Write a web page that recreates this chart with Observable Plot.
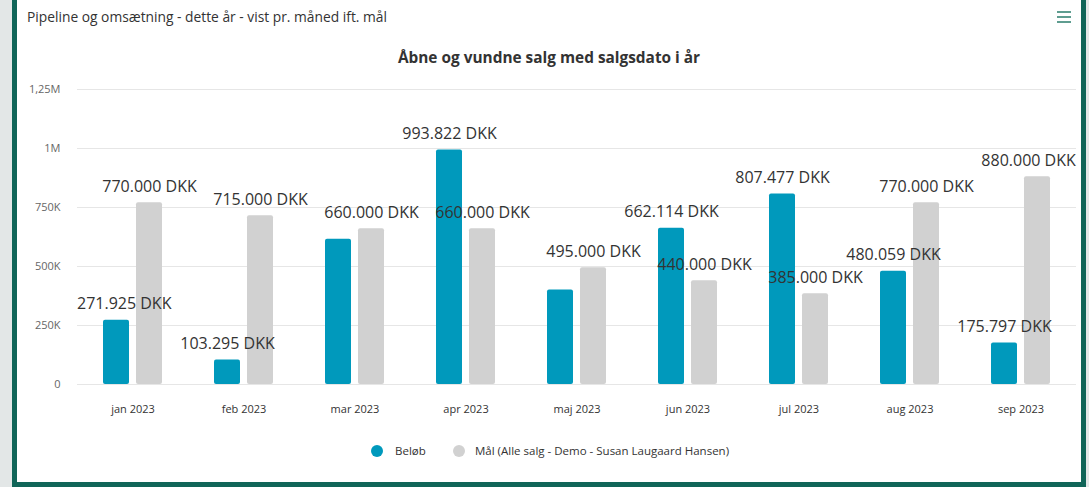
<!DOCTYPE html>
<html>
<head>
<meta charset="utf-8">
<script src="https://cdn.jsdelivr.net/npm/d3@7"></script>
<script src="https://cdn.jsdelivr.net/npm/@observablehq/plot@0.6"></script>
<style>
  html, body { margin: 0; padding: 0; }
  body { width: 1089px; height: 487px; overflow: hidden; background: #e3e7e7; position: relative; font-family: "Open Sans", sans-serif; }
  #card { position: absolute; left: 12px; top: -10px; width: 1074px; height: 497px; box-sizing: border-box; border: 5px solid #106558; background: #fff; }
  #title { position: absolute; left: 27px; top: 7px; font-size: 13.8px; line-height: 20px; color: #333; white-space: nowrap; }
  #menu { position: absolute; left: 1057px; top: 11px; width: 14px; }
  #menu div { height: 1.6px; background: #5f9d90; margin-bottom: 3.4px; }
  #ctitle { position: absolute; left: 17px; width: 1064px; top: 48px; text-align: center; font-size: 15.4px; font-weight: bold; line-height: 20px; color: #333; }
  #chart { position: absolute; left: 17px; top: 70px; }
  #legend { position: absolute; left: 17px; width: 1064px; top: 441px; height: 20px; font-size: 11.5px; color: #333; }
  .item { position: absolute; top: 0; line-height: 20px; white-space: nowrap; }
  .dot { position: absolute; width: 12px; height: 12px; border-radius: 50%; top: 4px; }
  svg g[aria-label^="y-axis"] text { fill: #666; }
</style>
</head>
<body>
<div id="card"></div>
<div id="title">Pipeline og omsætning - dette år - vist pr. måned ift. mål</div>
<div id="menu"><div></div><div></div><div></div></div>
<div id="ctitle">Åbne og vundne salg med salgsdato i år</div>
<div id="chart"></div>
<div id="legend"></div>
<script>
// ---- data ----
const months = ["jan 2023", "feb 2023", "mar 2023", "apr 2023", "maj 2023", "jun 2023", "jul 2023", "aug 2023", "sep 2023"];
const seriesKeys = ["Beløb", "Mål"];
const seriesLabels = ["Beløb", "Mål (Alle salg - Demo - Susan Laugaard Hansen)"];
const seriesColors = ["#0099bc", "#d1d1d1"];
const belob = [271925, 103295, 615000, 993822, 400000, 662114, 807477, 480059, 175797];
const maal = [770000, 715000, 660000, 660000, 495000, 440000, 385000, 770000, 880000];
// data labels the original hides because they overlap a higher label
const hiddenLabels = [["mar 2023", "Beløb"], ["maj 2023", "Beløb"]];
const yTicks = [0, 250000, 500000, 750000, 1000000, 1250000];
const yTickLabels = ["0", "250K", "500K", "750K", "1M", "1,25M"];

const rows = months.flatMap((m, i) => [
  {month: m, series: seriesKeys[0], value: belob[i]},
  {month: m, series: seriesKeys[1], value: maal[i]}
]);
const shown = rows.filter(d => !hiddenLabels.some(([m, s]) => m === d.month && s === d.series));
const fmt = v => d3.format(",")(v).replace(/,/g, ".") + " DKK";

const W = 1064, H = 355, ML = 60, MR = 5, MT = 19, MB = 41;
const chart = Plot.plot({
  width: W, height: H,
  marginTop: MT, marginRight: MR, marginBottom: MB, marginLeft: ML,
  style: {fontFamily: "Open Sans, sans-serif", fontSize: "11px", color: "#333", background: "transparent", overflow: "visible"},
  fx: {domain: months, padding: 0, label: null, tickSize: 0, tickPadding: 21, axis: "bottom"},
  x: {domain: seriesKeys, paddingInner: 0.224, paddingOuter: 0.769, axis: null},
  y: {domain: [0, 1250000], ticks: yTicks, tickFormat: d => yTickLabels[yTicks.indexOf(d)], tickSize: 0, tickPadding: 17, label: null},
  color: {domain: seriesKeys, range: seriesColors},
  marks: [
    Plot.gridY(yTicks, {stroke: "#e6e6e6", strokeOpacity: 1}),
    Plot.barY(rows, {fx: "month", x: "series", y: "value", fill: "series", rx: 2}),
    Plot.text(shown, {fx: "month", x: "series", y: "value", text: d => fmt(d.value), lineAnchor: "middle", dy: -16, fontSize: 16, fill: "#333"})
  ]
});
document.getElementById("chart").appendChild(chart);

// keep data labels inside the plot area horizontally (as the original does)
const svgRect = chart.getBoundingClientRect();
const left = svgRect.left + ML, right = svgRect.left + W - MR;
chart.querySelectorAll('g[aria-label="text"] text').forEach(t => {
  const r = t.getBoundingClientRect();
  let shift = 0;
  if (r.left < left) shift = left - r.left;
  else if (r.right > right) shift = right - r.right;
  if (shift) {
    if (t.hasAttribute("x")) t.setAttribute("x", parseFloat(t.getAttribute("x")) + shift);
    else t.setAttribute("transform", `translate(${shift},0) ` + (t.getAttribute("transform") || ""));
  }
});

// legend
const legend = document.getElementById("legend");
const legendX = [[354, 378], [436, 458]];
seriesLabels.forEach((lab, i) => {
  const dot = document.createElement("div");
  dot.className = "dot";
  dot.style.left = legendX[i][0] + "px";
  dot.style.background = seriesColors[i];
  legend.appendChild(dot);
  const it = document.createElement("div");
  it.className = "item";
  it.style.left = legendX[i][1] + "px";
  it.textContent = lab;
  legend.appendChild(it);
});
</script>
</body>
</html>
